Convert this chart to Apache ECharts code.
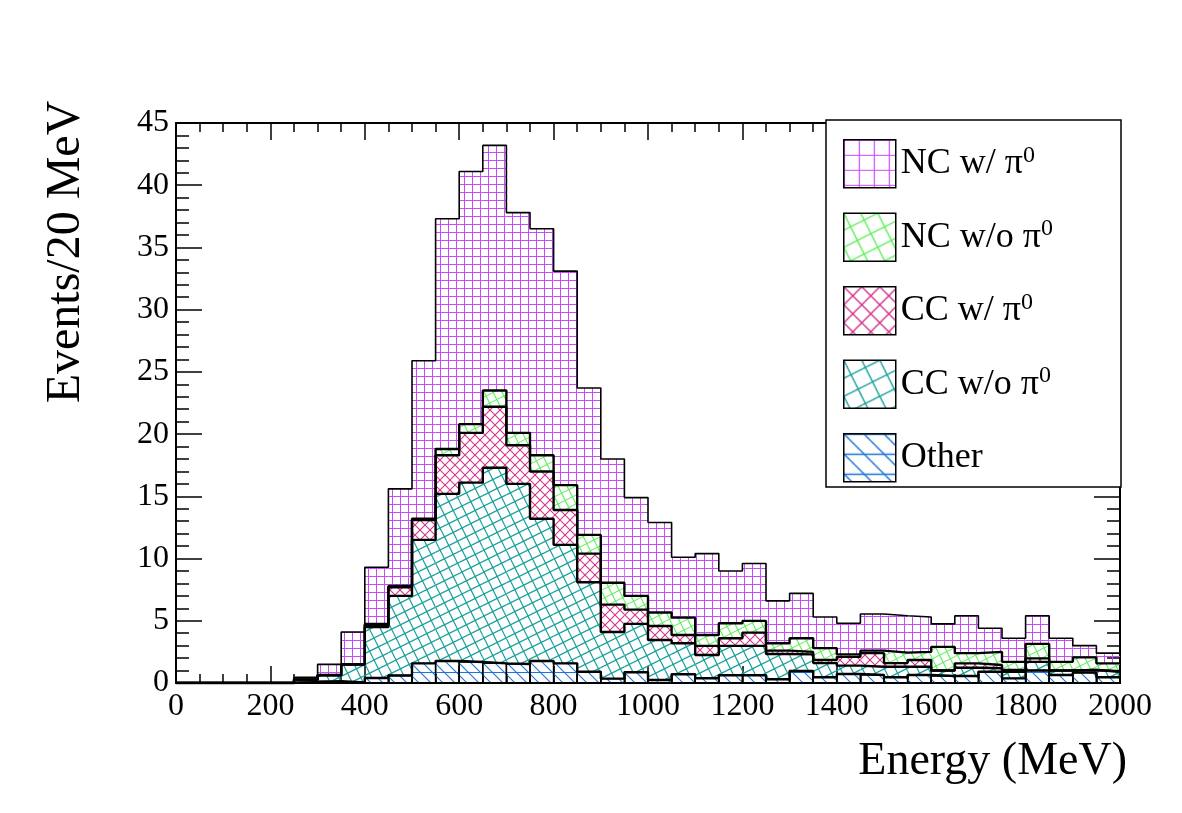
<!DOCTYPE html>
<html>
<head>
<meta charset="utf-8">
<script src="https://cdn.jsdelivr.net/npm/echarts@6.0.0/dist/echarts.min.js"></script>
<style>
  html, body { margin: 0; padding: 0; background: #fff; }
  #chart { width: 1182px; height: 813px; }
</style>
</head>
<body>
<div id="chart"></div>
<script>
// 40 bins of 50 MeV from 0 to 2000 MeV
const BIN_WIDTH = 50;
const N_BINS = 40;

const other = [0, 0, 0, 0, 0, 0.08, 0.15, 0.05, 0.40, 0.60, 1.58, 1.77, 1.69, 1.58, 1.53, 1.77, 1.58, 0.91, 0.35, 0.86,
  0.24, 0.70, 0.38, 0.62, 0.62, 0.30, 0.97, 0.46, 0.72, 0.64, 0.46, 0.64, 0.56, 0.56, 0.90, 0.37, 1.00, 0.64, 0.83, 0.46];
const ccNoPi0 = [0, 0, 0, 0, 0, 0.19, 0.47, 1.44, 4.10, 6.40, 9.92, 13.43, 14.41, 15.72, 14.47, 11.43, 9.52, 7.19, 3.75, 3.89,
  3.22, 2.49, 1.87, 2.36, 2.36, 2.03, 1.33, 1.14, 0.68, 0.66, 0.84, 0.66, 0.44, 0.67, 0.28, 0.53, 0.70, 0.36, 0.22, 0.44];
const ccPi0 = [0, 0, 0, 0, 0, 0, 0, 0.01, 0.15, 0.70, 1.60, 3.10, 4.00, 4.90, 3.10, 3.80, 2.80, 2.30, 2.20, 1.15,
  1.12, 0.67, 0.73, 0.62, 1.07, 0.27, 0.20, 0.25, 0.70, 1.10, 0.30, 0.55, 0, 0.35, 0.27, 0.15, 0.28, 0, 0, 0.05];
const ncNoPi0 = [0, 0, 0, 0, 0, 0.02, 0.03, 0, 0.10, 0.10, 0.10, 0.50, 0.70, 1.30, 1.00, 1.30, 2.00, 1.50, 1.75, 1.10,
  1.08, 1.39, 0.88, 1.20, 0.94, 0.59, 1.10, 0.95, 0.20, 0.20, 0.84, 0.65, 1.90, 0.82, 1.05, 0.65, 1.16, 0.70, 1.01, 0.63];
const ncPi0 = [0, 0, 0, 0, 0, 0.16, 0.85, 2.60, 4.55, 7.80, 12.70, 18.50, 20.30, 19.70, 17.70, 18.20, 17.20, 11.80, 9.95, 7.90,
  7.24, 4.85, 6.54, 4.20, 4.61, 3.41, 3.60, 2.50, 2.50, 2.95, 2.96, 2.80, 1.85, 3.00, 1.90, 1.90, 2.26, 1.90, 0.94, 0.82];

const legendNames = ['NC w/ π0', 'NC w/o π0', 'CC w/ π0', 'CC w/o π0', 'Other'];

const FONT = '"Liberation Serif", "DejaVu Serif", serif';

// tile of parallel line families, each family is i*x + j*y = k*size
function hatch(color, size, families, lw) {
  const c = document.createElement('canvas');
  c.width = size; c.height = size;
  const ctx = c.getContext('2d');
  ctx.strokeStyle = color;
  ctx.lineWidth = lw;
  families.forEach(([i, j]) => {
    for (let k = -8; k <= 8; k++) {
      ctx.beginPath();
      if (j === 0) {
        const x = k * size / i + 0.5;
        ctx.moveTo(x, -size); ctx.lineTo(x, 2 * size);
      } else if (i === 0) {
        const y = k * size / j + 0.5;
        ctx.moveTo(-size, y); ctx.lineTo(2 * size, y);
      } else {
        const x0 = -3 * size, x1 = 4 * size;
        ctx.moveTo(x0, (k * size - i * x0) / j);
        ctx.lineTo(x1, (k * size - i * x1) / j);
      }
      ctx.stroke();
    }
  });
  return { image: c, repeat: 'repeat' };
}

const COLORS = {
  violet: '#c84cf7', green: '#5ef05a', red: '#d2358c', teal: '#17a09a', blue: '#1e74d8'
};

const fills = {
  'NC w/ π0': hatch(COLORS.violet, 8, [[1, 0], [0, 1]], 1),
  'NC w/o π0': hatch(COLORS.green, 18, [[1, 2], [2, -1]], 1.1),
  'CC w/ π0': hatch(COLORS.red, 10, [[1, 1], [1, -1]], 1.1),
  'CC w/o π0': hatch(COLORS.teal, 22, [[1, 2], [2, -1]], 1.2),
  'Other': hatch(COLORS.blue, 12, [[0, 1], [1, -1]], 1.1)
};
const legendFills = {
  'NC w/ π0': hatch(COLORS.violet, 15, [[1, 0], [0, 1]], 1.2),
  'NC w/o π0': hatch(COLORS.green, 34, [[1, 2], [2, -1]], 1.4),
  'CC w/ π0': hatch(COLORS.red, 18, [[1, 1], [1, -1]], 1.4),
  'CC w/o π0': hatch(COLORS.teal, 36, [[1, 2], [2, -1]], 1.4),
  'Other': hatch(COLORS.blue, 20, [[0, 1], [1, -1]], 1.4)
};

// bottom of the stack first
const layers = [
  ['Other', other],
  ['CC w/o π0', ccNoPi0],
  ['CC w/ π0', ccPi0],
  ['NC w/o π0', ncNoPi0],
  ['NC w/ π0', ncPi0]
];

// running sums, one per layer
const cumulative = [];
layers.forEach(([, vals], li) => {
  cumulative.push(vals.map((v, b) => v + (li > 0 ? cumulative[li - 1][b] : 0)));
});

const series = [];
// hatched band of each layer between the layer below and its own top
layers.forEach(([name], li) => {
  const rows = [];
  for (let b = 0; b < N_BINS; b++) {
    const lower = li > 0 ? cumulative[li - 1][b] : 0;
    rows.push([b * BIN_WIDTH, (b + 1) * BIN_WIDTH, lower, cumulative[li][b]]);
  }
  const boxed = li === 0; // the lowest layer keeps its bin edges
  series.push({
    name: name,
    type: 'custom',
    silent: true,
    z: 2,
    encode: { x: [0, 1], y: [2, 3] },
    data: rows,
    renderItem: (params, api) => {
      const p0 = api.coord([api.value(0), api.value(2)]);
      const p1 = api.coord([api.value(1), api.value(3)]);
      const h = p0[1] - p1[1];
      return {
        type: 'rect',
        shape: { x: p0[0], y: p1[1], width: p1[0] - p0[0], height: h },
        style: { fill: fills[name], stroke: boxed && h > 0.5 ? '#000' : null, lineWidth: 1.4 }
      };
    }
  });
});
// black step outline of every running sum
layers.forEach(([name], li) => {
  const pts = [];
  for (let i = 0; i <= N_BINS; i++) {
    pts.push([i * BIN_WIDTH, cumulative[li][Math.min(i, N_BINS - 1)]]);
  }
  series.push({
    name: name + ' outline',
    type: 'line',
    step: 'end',
    data: pts,
    symbol: 'none',
    silent: true,
    z: 3,
    lineStyle: { color: '#000', width: li === layers.length - 1 ? 1.6 : 2.4 }
  });
});

const axisLine = { show: true, onZero: false, lineStyle: { color: '#000', width: 2 } };
const plain = v => String(v);

const chart = echarts.init(document.getElementById('chart'), null, { renderer: 'canvas' });
chart.setOption({
  backgroundColor: '#fff',
  animation: false,
  grid: { left: 176, right: 62, top: 123, bottom: 130, containLabel: false },
  xAxis: [{
    type: 'value', min: 0, max: 2000, interval: 200, position: 'bottom',
    axisLine: axisLine,
    axisTick: { inside: true, length: 17, lineStyle: { color: '#000', width: 1.5 } },
    minorTick: { show: true, splitNumber: 4, length: 9, lineStyle: { color: '#000', width: 1.5 } },
    splitLine: { show: false },
    axisLabel: { color: '#000', fontFamily: FONT, fontSize: 32, margin: 8, formatter: plain, showMinLabel: true, showMaxLabel: true }
  }, {
    type: 'value', min: 0, max: 2000, interval: 200, position: 'top',
    axisLine: axisLine,
    axisTick: { inside: true, length: 17, lineStyle: { color: '#000', width: 1.5 } },
    minorTick: { show: true, splitNumber: 4, length: 9, lineStyle: { color: '#000', width: 1.5 } },
    splitLine: { show: false },
    axisLabel: { show: false }
  }],
  yAxis: [{
    type: 'value', min: 0, max: 45, interval: 5, position: 'left',
    axisLine: axisLine,
    axisTick: { inside: true, length: 26, lineStyle: { color: '#000', width: 1.5 } },
    minorTick: { show: true, splitNumber: 5, length: 13, lineStyle: { color: '#000', width: 1.5 } },
    splitLine: { show: false },
    axisLabel: { color: '#000', fontFamily: FONT, fontSize: 32, margin: 7, formatter: plain, showMinLabel: true, showMaxLabel: true }
  }, {
    type: 'value', min: 0, max: 45, interval: 5, position: 'right',
    axisLine: axisLine,
    axisTick: { inside: true, length: 26, lineStyle: { color: '#000', width: 1.5 } },
    minorTick: { show: true, splitNumber: 5, length: 13, lineStyle: { color: '#000', width: 1.5 } },
    splitLine: { show: false },
    axisLabel: { show: false }
  }],
  legend: {
    orient: 'vertical',
    left: 838, top: 134,
    itemWidth: 52, itemHeight: 48, itemGap: 24,
    selectedMode: false,
    icon: 'rect',
    data: legendNames.map(n => ({
      name: n,
      icon: 'rect',
      itemStyle: { color: legendFills[n], borderColor: '#000', borderWidth: 1.5, opacity: 1 }
    })),
    formatter: n => n.replace('π0', 'π{s|0}'),
    textStyle: {
      color: '#000', fontFamily: FONT, fontSize: 36,
      rich: { s: { fontFamily: FONT, fontSize: 24, color: '#000', padding: [0, 0, 17, 0] } }
    },
    z: 10
  },
  graphic: [
    {
      type: 'rect', z: 5,
      shape: { x: 826, y: 120, width: 295, height: 367 },
      style: { fill: '#fff', stroke: '#000', lineWidth: 1.5 }
    },
    {
      type: 'text', x: 1127, y: 762, z: 5,
      style: { text: 'Energy (MeV)', font: '46px ' + FONT, fill: '#000', align: 'right', verticalAlign: 'middle', textAlign: 'right', textVerticalAlign: 'middle' }
    },
    {
      type: 'text', x: 66, y: 252, rotation: Math.PI / 2, z: 5,
      style: { text: 'Events/20 MeV', font: '48px ' + FONT, fill: '#000', align: 'center', verticalAlign: 'middle', textAlign: 'center', textVerticalAlign: 'middle' }
    }
  ],
  series: series
});
</script>
</body>
</html>
